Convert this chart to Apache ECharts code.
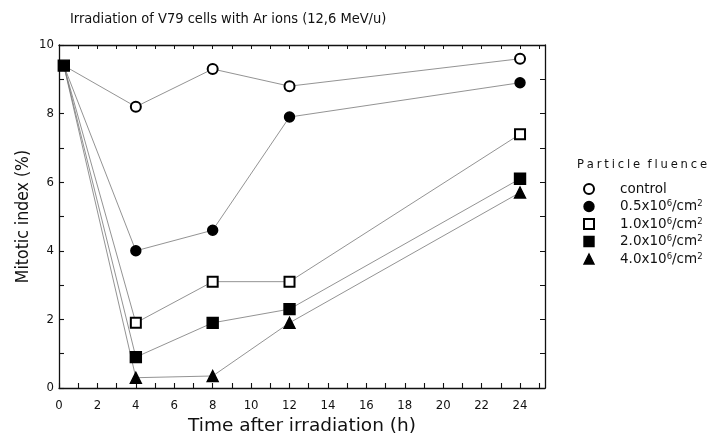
<!DOCTYPE html>
<html><head><meta charset="utf-8">
<script src="https://cdn.jsdelivr.net/npm/echarts@6/dist/echarts.min.js"></script>
<style>html,body{margin:0;padding:0;background:#fff}#c{width:712px;height:436px}</style>
</head><body><div id="c"></div>
<script>
const times = [0.25, 4, 8, 12, 24];
const seriesNames = ['control', '0.5x10{s|6}/cm{s|2}', '1.0x10{s|6}/cm{s|2}', '2.0x10{s|6}/cm{s|2}', '4.0x10{s|6}/cm{s|2}'];
const control = [9.4, 8.2, 9.3, 8.8, 9.6];
const f05 = [9.4, 4.0, 4.6, 7.9, 8.9];
const f10 = [9.4, 1.9, 3.1, 3.1, 7.4];
const f20 = [9.4, 0.9, 1.9, 2.3, 6.1];
const f40 = [9.4, 0.3, 0.35, 1.9, 5.7];
const xTicks = [0, 2, 4, 6, 8, 10, 12, 14, 16, 18, 20, 22, 24];
const xMinorTicks = [0,1,2,3,4,5,6,7,8,9,10,11,12,13,14,15,16,17,18,19,20,21,22,23,24,25];
const yTicks = [0, 2, 4, 6, 8, 10];
const yMinorTicks = [0,1,2,3,4,5,6,7,8,9,10];

const values = [control, f05, f10, f20, f40];
const symbols = ['emptyCircle', 'circle', 'emptyRect', 'rect', 'triangle'];
const sizes = [10, 10, 10, 11, 11];

const font = '"DejaVu Sans Condensed", "DejaVu Sans", sans-serif';
const font2 = '"DejaVu Sans", sans-serif';

const series = values.map((v, i) => ({
  type: 'line',
  name: seriesNames[i],
  xAxisIndex: 0, yAxisIndex: 0,
  z: i === 3 ? 5 : 3,
  data: v.map((y, j) => {
    const item = { value: [times[j], y] };
    if (j === 0 && i !== 3) { item.symbol = 'none'; }
    return item;
  }),
  symbol: symbols[i],
  symbolSize: sizes[i],
  itemStyle: { color: '#000', borderColor: '#000', borderWidth: 1.4 },
  lineStyle: { color: '#777', width: 0.8 },
  emphasis: { disabled: true },
  animation: false
}));

const chart = echarts.init(document.getElementById('c'), null, { renderer: 'canvas' });
const spaced = 'Particle'.split('').join('\u2005') + '  ' + 'fluence'.split('').join('\u2005');
chart.setOption({
  backgroundColor: '#fff',
  animation: false,
  title: [
    { text: 'Irradiation of V79 cells with Ar ions (12,6 MeV/u)', left: 65, top: 7,
      textStyle: { fontFamily: font, fontSize: 14.5, fontWeight: 'normal', color: '#111' } },
    { text: spaced, left: 572, top: 153,
      textStyle: { fontFamily: font, fontSize: 12.8, fontWeight: 'normal', color: '#111' } }
  ],
  legend: {
    orient: 'vertical', left: 578, top: 177,
    itemWidth: 10, itemHeight: 10, itemGap: 3.5,
    selectedMode: false,
    data: seriesNames.map((n, i) => ({ name: n, icon: symbols[i],
      itemStyle: { color: '#000', borderColor: '#000', borderWidth: 1.4 } })),
    formatter: n => '{g|}' + n,
    textStyle: { fontFamily: font2, fontSize: 13.5, color: '#111', lineHeight: 14,
      rich: { g: { width: 21 }, s: { fontSize: 8.5, verticalAlign: 'top', lineHeight: 14, fontFamily: font2 } } }
  },
  grid: { left: 59, right: 167, top: 45, bottom: 48, containLabel: false, outerBoundsMode: 'none' },
  xAxis: [
    { type: 'value', position: 'bottom', min: 0, max: 25.3, interval: 1,
      name: 'Time after irradiation (h)', nameLocation: 'middle', nameGap: 28,
      nameTextStyle: { fontFamily: font2, fontSize: 18.5, color: '#111' },
      axisLine: { show: true, onZero: false, lineStyle: { color: '#111', width: 1.3 } },
      axisTick: { inside: true, length: 5, customValues: xMinorTicks, lineStyle: { color: '#111', width: 1.1 } },
      axisLabel: { margin: 11, fontFamily: font, fontSize: 13, color: '#111', customValues: xTicks },
      splitLine: { show: false } },
    { type: 'value', position: 'top', min: 0, max: 25.3, interval: 1,
      axisLine: { show: true, onZero: false, lineStyle: { color: '#111', width: 1.3 } },
      axisTick: { inside: true, length: 4, customValues: xMinorTicks, lineStyle: { color: '#111' } },
      axisLabel: { show: false }, splitLine: { show: false } }
  ],
  yAxis: [
    { type: 'value', position: 'left', min: 0, max: 10, interval: 1,
      name: 'Mitotic index (%)', nameLocation: 'middle', nameGap: 27, nameMoveOverlap: false,
      nameTextStyle: { fontFamily: font, fontSize: 17.5, color: '#111' },
      axisLine: { show: true, onZero: false, lineStyle: { color: '#111', width: 1.3 } },
      axisTick: { inside: true, length: 5, customValues: yMinorTicks, lineStyle: { color: '#111', width: 1.1 } },
      axisLabel: { margin: 5, fontFamily: font, fontSize: 13, color: '#111', customValues: yTicks },
      splitLine: { show: false } },
    { type: 'value', position: 'right', min: 0, max: 10, interval: 1,
      axisLine: { show: true, onZero: false, lineStyle: { color: '#111', width: 1.3 } },
      axisTick: { inside: true, length: 5, customValues: yMinorTicks, lineStyle: { color: '#111' } },
      axisLabel: { show: false }, splitLine: { show: false } }
  ],
  series: series
});
</script></body></html>
